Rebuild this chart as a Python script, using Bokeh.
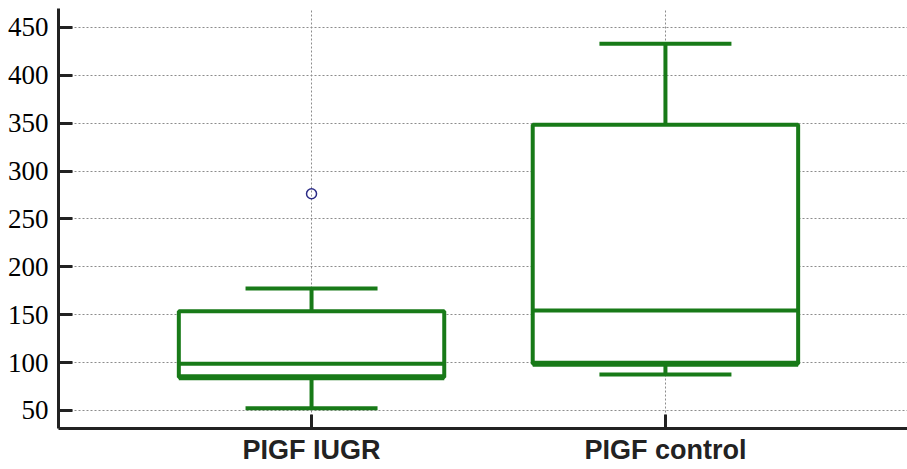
from bokeh.plotting import figure
from bokeh.models import FixedTicker, Range1d, ColumnDataSource
from bokeh.embed import file_html
from bokeh.resources import INLINE

categories = ["PIGF IUGR", "PIGF control"]
lower_whisker = [52.4, 87.6]
q1 = [84.8, 98.8]
median = [98.8, 154.4]
q3 = [153.7, 348.4]
upper_whisker = [177.4, 433.0]
outlier_cat = ["PIGF IUGR"]
outlier_val = [276.3]
y_ticks = [50, 100, 150, 200, 250, 300, 350, 400, 450]

GREEN = "#187a18"
box_width = 0.75
cap_width = 0.373

xpos = [i + 1 for i in range(len(categories))]
src = ColumnDataSource(dict(
    x=xpos, lw=lower_whisker, q1=q1, med=median, q3=q3, uw=upper_whisker,
    cl=[x - cap_width / 2 for x in xpos], cr=[x + cap_width / 2 for x in xpos],
    bl=[x - box_width / 2 for x in xpos], br=[x + box_width / 2 for x in xpos],
))

p = figure(width=907, height=469, output_backend="svg", toolbar_location=None,
           x_range=Range1d(0.285, 2.684), y_range=Range1d(31.2, 469.8),
           min_border_left=58, min_border_right=0, min_border_top=8, min_border_bottom=41)
p.outline_line_color = None
p.background_fill_color = "white"

# grid
for g in (p.xgrid, p.ygrid):
    g.grid_line_color = "#8c8c8c"
    g.grid_line_dash = "2 2"
    g.grid_line_width = 1
p.xgrid.ticker = FixedTicker(ticks=xpos)
p.ygrid.ticker = FixedTicker(ticks=y_ticks)

# whisker stems
p.segment(x0="x", y0="q3", x1="x", y1="uw", source=src, line_color=GREEN, line_width=4)
p.segment(x0="x", y0="lw", x1="x", y1="q1", source=src, line_color=GREEN, line_width=4)
# caps
p.segment(x0="cl", y0="uw", x1="cr", y1="uw", source=src, line_color=GREEN, line_width=4)
p.segment(x0="cl", y0="lw", x1="cr", y1="lw", source=src, line_color=GREEN, line_width=4)
# boxes
p.quad(left="bl", right="br", bottom="q1", top="q3", source=src,
       fill_color="white", line_color=GREEN, line_width=4)
p.segment(x0="bl", y0="q1", x1="br", y1="q1", source=src, line_color=GREEN, line_width=6)
p.segment(x0="bl", y0="med", x1="br", y1="med", source=src, line_color=GREEN, line_width=4)

# outliers
ox = [xpos[categories.index(c)] for c in outlier_cat]
p.scatter(ox, outlier_val, marker="circle", size=10, fill_color=None,
          line_color="#2b2b86", line_width=1.5)

# axes
ya = p.yaxis[0]
ya.ticker = FixedTicker(ticks=y_ticks)
ya.major_label_text_font = "Liberation Serif"
ya.major_label_text_font_size = "27px"
ya.major_label_text_color = "black"
ya.major_tick_in = 14
ya.major_tick_out = 0
ya.major_tick_line_width = 3
ya.minor_tick_line_color = None
ya.axis_line_width = 3
ya.axis_line_color = "#222222"
ya.major_tick_line_color = "#222222"
ya.major_label_standoff = 10

xa = p.xaxis[0]
xa.ticker = FixedTicker(ticks=xpos)
xa.major_label_overrides = {x: c for x, c in zip(xpos, categories)}
xa.major_label_text_font = "Liberation Sans"
xa.major_label_text_font_style = "bold"
xa.major_label_text_font_size = "27px"
xa.major_label_text_color = "#222222"
xa.major_tick_in = 14
xa.major_tick_out = 0
xa.major_tick_line_width = 3
xa.minor_tick_line_color = None
xa.axis_line_width = 3
xa.axis_line_color = "#222222"
xa.major_tick_line_color = "#222222"
xa.major_label_standoff = 6

open("out.html", "w").write(file_html(p, INLINE))
